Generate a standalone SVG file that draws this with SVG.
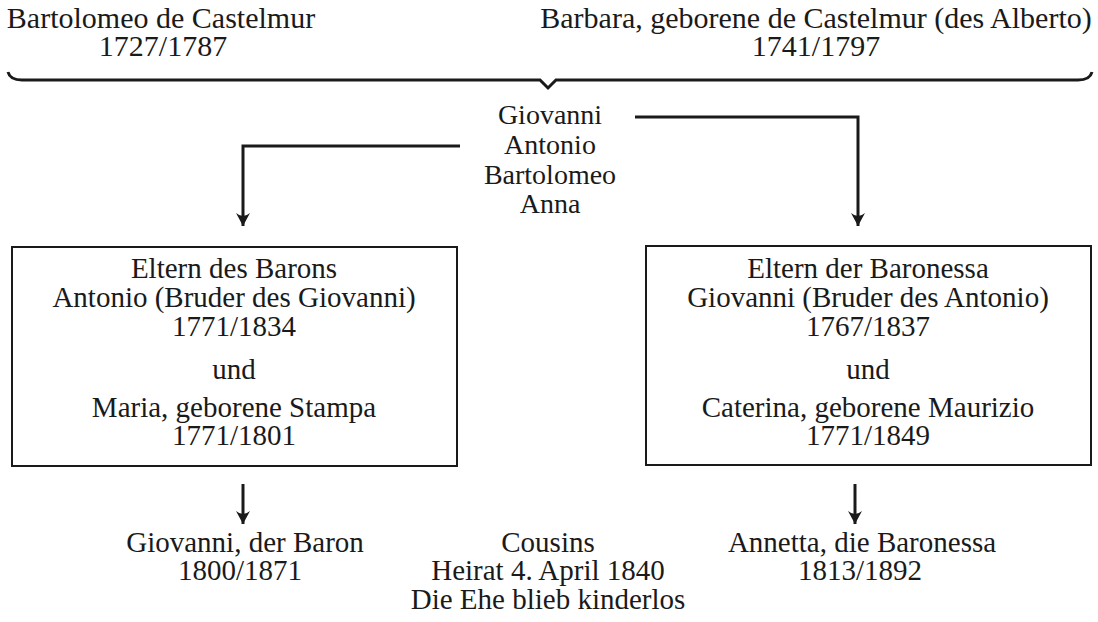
<svg xmlns="http://www.w3.org/2000/svg" width="1098" height="622" viewBox="0 0 1098 622">
<style>
text{font-family:"Liberation Serif","Times New Roman",serif;font-size:29px;fill:#1a1a1a;text-anchor:middle}
.top{font-size:30px}
.mid{font-size:28px}
.box{fill:none;stroke:#1a1a1a;stroke-width:2}
.ln{fill:none;stroke:#1a1a1a;stroke-width:3}
</style>
<defs>
<marker id="arr" viewBox="-14 -9 15 18" refX="0" refY="0" markerWidth="15" markerHeight="18" markerUnits="userSpaceOnUse" orient="auto">
<path d="M0,0 L-13,-7 Q-7,0 -13,7 Z" fill="#1a1a1a"/>
</marker>
</defs>
<rect width="1098" height="622" fill="#fff"/>
<g id="parents">
<text class="top" x="161" y="28">Bartolomeo de Castelmur</text>
<text class="top" x="163" y="56">1727/1787</text>
<text class="top" x="816" y="28">Barbara, geborene de Castelmur (des Alberto)</text>
<text class="top" x="816" y="56">1741/1797</text>
</g>
<g id="children">
<text class="mid" x="550" y="124">Giovanni</text>
<text class="mid" x="550" y="154">Antonio</text>
<text class="mid" x="550" y="184">Bartolomeo</text>
<text class="mid" x="550" y="213">Anna</text>
</g>
<g id="baron-parents">
<rect class="box" x="12" y="247" width="445" height="219"/>
<text x="234" y="278">Eltern des Barons</text>
<text x="234" y="307">Antonio (Bruder des Giovanni)</text>
<text x="234" y="336">1771/1834</text>
<text x="234" y="379">und</text>
<text x="234" y="417">Maria, geborene Stampa</text>
<text x="234" y="445">1771/1801</text>
</g>
<g id="baronessa-parents">
<rect class="box" x="646" y="246" width="445" height="219"/>
<text x="868" y="278">Eltern der Baronessa</text>
<text x="868" y="307">Giovanni (Bruder des Antonio)</text>
<text x="868" y="336">1767/1837</text>
<text x="868" y="379">und</text>
<text x="868" y="417">Caterina, geborene Maurizio</text>
<text x="868" y="445">1771/1849</text>
</g>
<g id="baron">
<text x="245" y="552">Giovanni, der Baron</text>
<text x="240" y="580">1800/1871</text>
</g>
<g id="marriage">
<text x="548" y="552">Cousins</text>
<text x="548" y="580">Heirat 4. April 1840</text>
<text x="548" y="609">Die Ehe blieb kinderlos</text>
</g>
<g id="baronessa">
<text x="862" y="552">Annetta, die Baronessa</text>
<text x="860" y="580">1813/1892</text>
</g>
<g id="connectors">
<path class="ln" d="M8,72 Q10,80 22,80 L540,80 L548,88 L556,80 L1078,80 Q1090,80 1092,72"/>
<path class="ln" d="M460,146 L243,146 L243,226" marker-end="url(#arr)"/>
<path class="ln" d="M635,117 L858,117 L858,226" marker-end="url(#arr)"/>
<path class="ln" d="M243,484 L243,524" marker-end="url(#arr)"/>
<path class="ln" d="M855,484 L855,524" marker-end="url(#arr)"/>
</g>
</svg>
